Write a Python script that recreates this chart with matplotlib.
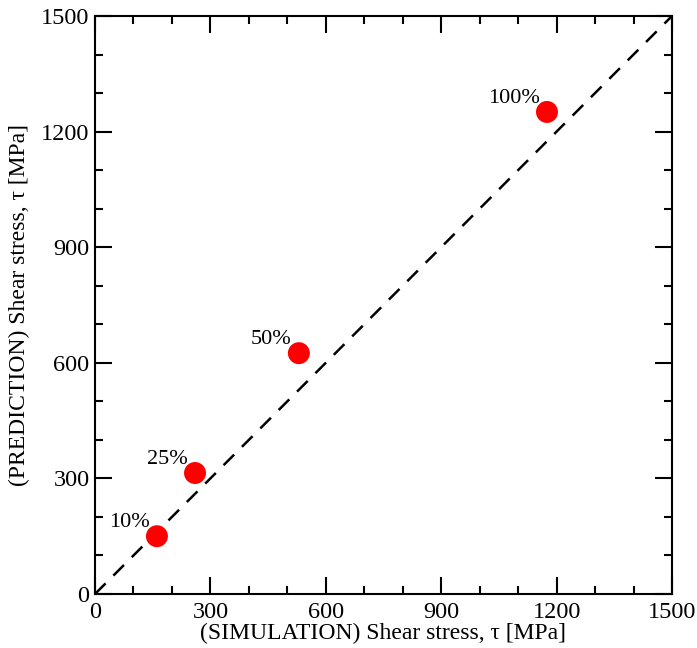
import numpy as np
import matplotlib.pyplot as plt

# datos
etiquetas = ['10%', '25%', '50%', '100%']
simulacion = [161, 260, 530, 1175]
prediccion = [150, 314, 625, 1251]
ticks = [0, 300, 600, 900, 1200, 1500]

plt.rcParams['font.family'] = ['Liberation Serif', 'DejaVu Serif']

fig = plt.figure(figsize=(6.97, 6.48), dpi=100)
ax = fig.add_axes([95/697, 54/648, 577/697, 578/648])

# linea identidad
ax.plot([0, 1500], [0, 1500], color='black', lw=1.8, ls=(0, (6, 4.4)), zorder=1)
ax.scatter(simulacion, prediccion, s=250, color='red', edgecolor='none', zorder=2)

for lab, x, y in zip(etiquetas, simulacion, prediccion):
    ax.annotate(lab, (x, y), xytext=(-5, 6.5), textcoords='offset points',
                ha='right', va='baseline', fontsize=16)

ax.set_xlim(0, 1500)
ax.set_ylim(0, 1500)
ax.set_xticks(ticks)
ax.set_yticks(ticks)
ax.set_xticks(np.arange(0, 1501, 100), minor=True)
ax.set_yticks(np.arange(0, 1501, 100), minor=True)
ax.tick_params(which='both', direction='in', top=True, right=True, width=1.5, labelsize=17.5)
ax.tick_params(which='major', length=12)
ax.tick_params(axis='x', which='major', pad=6)
ax.tick_params(axis='y', which='major', pad=4)
ax.tick_params(which='minor', length=6)
for s in ax.spines.values():
    s.set_linewidth(1.5)

ax.set_xlabel('(SIMULATION) Shear stress, τ [MPa]', fontsize=17, labelpad=0)
ax.set_ylabel('(PREDICTION) Shear stress, τ [MPa]', fontsize=17, labelpad=8)

plt.savefig('out.png', dpi=100)
